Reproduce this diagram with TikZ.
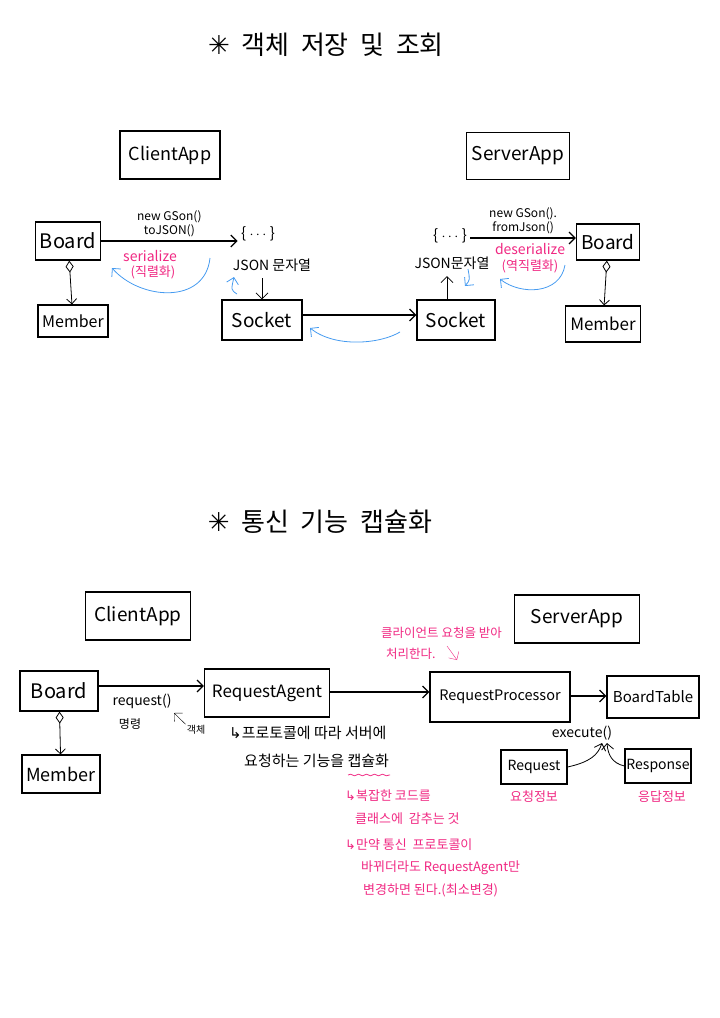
\documentclass[tikz,border=0pt]{standalone}
\usepackage{fontspec}
\setmainfont{Noto Sans CJK KR}
\newfontfamily\symfont{DejaVu Sans}
\usepackage{xcolor}
\definecolor{inkblue}{RGB}{70, 155, 240}
\definecolor{inkpink}{RGB}{240, 40, 130}
\usetikzlibrary{arrows.meta,positioning,decorations.pathmorphing}

\newcommand{\fs}[1]{\fontsize{#1}{#1}\selectfont}

\tikzset{
  box/.style={draw, very thick, inner sep=0pt, font=\fs{18}},
  note/.style={font=\fs{14}, inner sep=1pt},
  pinknote/.style={note, text=inkpink},
  flow/.style={->, very thick},
  back/.style={->, thick, inkblue},
  owns/.style={{Diamond[open,length=12pt,width=8pt]}-{Straight Barb[length=5pt]}, thick},
}

\begin{document}
\begin{tikzpicture}[x=1pt, y=-1pt, >={Straight Barb[length=6pt]}]
    \useasboundingbox (0,0) rectangle (720,1018);

    % Title 1
    \node[font=\fs{26}] (title1) at (326,45) {{\symfont ✳}\ \ 객체 \ 저장 \ 및 \ 조회};

    % Client side
    \node[box, minimum width=100pt, minimum height=48pt] (capp1) at (170,155) {ClientApp};
    \node[box, minimum width=65pt, minimum height=38pt, font=\fs{20}] (board1) at (68,241) {Board};
    \node[box, minimum width=70pt, minimum height=32pt, font=\fs{16}] (member1) at (73,321) {Member};
    \node[font=\fs{15}] (json1) at (258,234) {\{ $\cdots$ \}};
    \node[note] (jstr1) at (272,265) {JSON 문자열};
    \node[box, minimum width=80pt, minimum height=40pt, font=\fs{19}] (sock1) at (262,320) {Socket};

    % Server side
    \node[box, minimum width=103pt, minimum height=47pt, font=\fs{19}] (sapp1) at (518,156) {ServerApp};
    \node[font=\fs{15}] (json2) at (450,236) {\{ $\cdots$ \}};
    \node[note] (jstr2) at (452,263) {JSON문자열};
    \node[box, minimum width=78pt, minimum height=40pt, font=\fs{19}] (sock2) at (456,320) {Socket};
    \node[box, minimum width=63pt, minimum height=36pt, font=\fs{19}] (board2) at (608,242) {Board};
    \node[box, minimum width=75pt, minimum height=36pt, font=\fs{17}] (member2) at (603,324) {Member};

    % Aggregation
    \draw[owns] (board1) -- (member1);
    \draw[owns] (board2) -- (member2);

    % Serialize
    \coordinate (jin) at (json1.west |- board1.east);
    \draw[flow] (board1.east) -- (jin) node[midway, above=3pt, note, font=\fs{12}, align=center] {new GSon()\\toJSON()};
    \coordinate (ser0) at (210,258);
    \coordinate (ser1) at (112,268);
    \draw[back] (ser0) .. controls (205,305) and (140,300) .. (ser1);
    \node[pinknote] (ser) at (150,256) {serialize};
    \node[pinknote, font=\fs{13}] at (153,272) {(직렬화)};
    \coordinate (jdn) at (262,278);
    \draw[->, thick] (jdn) -- (jdn |- sock1.north);
    \coordinate (up0) at (237,294);
    \coordinate (up1) at (234,277);
    \draw[back] (up0) .. controls (231,290) .. (up1);

    % Socket to socket
    \draw[flow] (sock1.east |- 0,315) -- (sock2.west |- 0,315);
    \coordinate (sk0) at (400,332);
    \coordinate (sk1) at (310,328);
    \draw[back] (sk0) .. controls (380,344) and (335,348) .. (sk1);

    % Deserialize
    \coordinate (jup) at (447,276);
    \draw[->, thick] (jup |- sock2.north) -- (jup);
    \coordinate (dn0) at (468,269);
    \coordinate (dn1) at (465,286);
    \draw[back] (dn0) .. controls (470,280) .. (dn1);
    \draw[flow] (json2.east |- 0,238) -- (board2.west |- 0,238) node[midway, above=3pt, note, font=\fs{12}, align=center] {new GSon().\\fromJson()};
    \coordinate (des0) at (565,265);
    \coordinate (des1) at (500,279);
    \draw[back] (des0) .. controls (560,295) and (520,295) .. (des1);
    \node[pinknote] at (530,249) {deserialize};
    \node[pinknote, font=\fs{13}] at (530,266) {(역직렬화)};

    % Title 2
    \node[font=\fs{26}] (title2) at (320,522) {{\symfont ✳}\ \ 통신 \ 기능 \ 캡슐화};

    % Client side
    \node[box, minimum width=105pt, minimum height=48pt, font=\fs{19}] (capp2) at (138,616) {ClientApp};
    \node[box, minimum width=78pt, minimum height=40pt, font=\fs{20}] (board3) at (59,691) {Board};
    \node[box, minimum width=78pt, minimum height=38pt, font=\fs{18}] (member3) at (61,774) {Member};
    \node[box, minimum width=125pt, minimum height=48pt, font=\fs{17}] (agent) at (267,693) {RequestAgent};
    \draw[owns] (board3) -- (member3);
    \draw[flow] (board3.east |- 0,686) -- (agent.west |- 0,686);
    \node[note, font=\fs{14}] (req) at (142,701) {request()};
    \node[note, font=\fs{12}] (cmd) at (130,724) {명령};
    \node[note, font=\fs{10}] (obj) at (196,730) {객체};
    \coordinate (objtip) at (174,713);
    \draw[->, thin] (obj.north west) -- (objtip);

    % Agent notes
    \node[note, font=\fs{15}, anchor=west] (proto) at (228,733) {{\symfont ↳}프로토콜에 따라 서버에};
    \node[note, font=\fs{15}, anchor=west] (encap) at (243,761) {요청하는 기능을 캡슐화};
    \draw[inkpink, thick, decorate, decoration={snake, amplitude=0.8pt, segment length=8pt}] (348,775) -- (390,775);
    \node[pinknote, font=\fs{13}, anchor=west] at (344,796) {{\symfont ↳}복잡한 코드를};
    \node[pinknote, font=\fs{13}, anchor=west] at (354,819) {클래스에 \ 감추는 것};
    \node[pinknote, font=\fs{13}, anchor=west] at (344,845) {{\symfont ↳}만약 통신 \ 프로토콜이};
    \node[pinknote, font=\fs{13}, anchor=west] at (360,868) {바뀌더라도 RequestAgent만};
    \node[pinknote, font=\fs{13}, anchor=west] at (362,890) {변경하면 된다.(최소변경)};

    % Server side
    \node[box, minimum width=125pt, minimum height=48pt, font=\fs{19}] (sapp2) at (577,619) {ServerApp};
    \node[box, minimum width=140pt, minimum height=50pt, font=\fs{14.5}] (proc) at (500,697) {RequestProcessor};
    \node[box, minimum width=92pt, minimum height=42pt, font=\fs{15}] (btable) at (653,697) {BoardTable};
    \draw[flow] (agent.east |- 0,692) -- (proc.west |- 0,692);
    \draw[flow] (proc.east |- 0,696) -- (btable.west |- 0,696);
    \node[pinknote, font=\fs{12.5}, anchor=west] (recv) at (380,633) {클라이언트 요청을 받아};
    \node[pinknote, font=\fs{12.5}, anchor=west] (handle) at (385,654) {처리한다.};
    \coordinate (rc0) at (447,646);
    \coordinate (rc1) at (457,660);
    \draw[->, thin, inkpink] (rc0) .. controls (452,652) .. (rc1);

    % execute
    \node[note, font=\fs{14}] (exec) at (582,733) {execute()};
    \node[box, minimum width=66pt, minimum height=34pt, font=\fs{14}] (request) at (534,767) {Request};
    \node[box, minimum width=66pt, minimum height=34pt, font=\fs{14}] (response) at (658,766) {Response};
    \coordinate (ex0) at (602,743);
    \coordinate (ex1) at (607,743);
    \draw[->, thick] (request.east) .. controls (590,762) and (598,755) .. (ex0);
    \draw[->, thick] (response.west) .. controls (612,763) and (608,755) .. (ex1);
    \node[pinknote, font=\fs{13}] at (534,797) {요청정보};
    \node[pinknote, font=\fs{13}] at (662,797) {응답정보};
\end{tikzpicture}
\end{document}
